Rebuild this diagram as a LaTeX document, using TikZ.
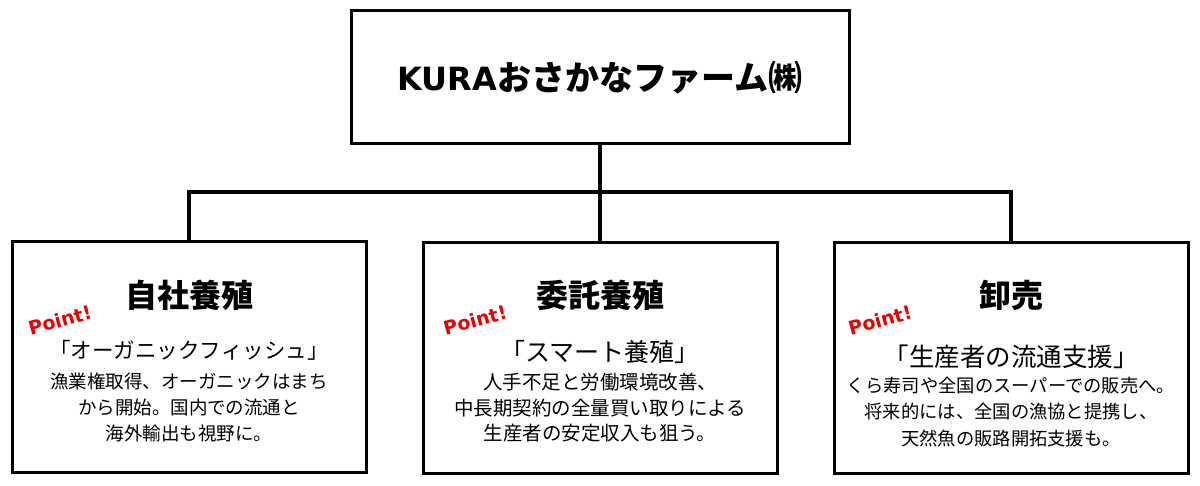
\documentclass[tikz,border=0pt]{standalone}
\usepackage{fontspec}
\newfontfamily\jp{Noto Sans CJK JP}
\newfontfamily\dvs{DejaVu Sans}
\definecolor{pointred}{RGB}{235,0,0}
\begin{document}
\begin{tikzpicture}[x=1pt,y=-1pt,
  box/.style={draw=black,line width=3pt,fill=white,inner sep=0pt,minimum width=354pt,minimum height=231pt},
  conn/.style={line width=4pt,black},
  ttl/.style={font=\jp\bfseries\fontsize{32}{36}\selectfont,inner sep=0pt},
  sub/.style={font=\jp\fontsize{24}{28}\selectfont,inner sep=0pt},
  body/.style={font=\jp\fontsize{18.5}{26}\selectfont,align=center,inner sep=0pt},
  pnt/.style={font=\dvs\bfseries\fontsize{19}{22}\selectfont,text=pointred,rotate=15,inner sep=0pt}]
\useasboundingbox (0,0) rectangle (1200,485);
% top box
\node[draw=black,line width=3pt,inner sep=0pt,minimum width=498pt,minimum height=133pt] (top) at (600,76.5) {};
\node[inner sep=0pt] (toptxt) at (600,78) {{\dvs\bfseries\fontsize{32}{36}\selectfont KURA}{\jp\bfseries\fontsize{34}{38}\selectfont おさかなファーム㈱}};
% lower boxes
\node[box] (L) at (189,356.5) {};
\node[box] (M) at (600,357.5) {};
\node[box] (R) at (1011,357.5) {};
% connectors
\coordinate (busL) at (189,192);
\coordinate (busR) at (1011,192);
\draw[conn] (top.south) -- (M.north);
\draw[conn] (L.north) -- (busL) -- (busR) -- (R.north);
% left content
\node[ttl] (Lt) at (189,295) {自社養殖};
\node[pnt] (Lp) at (60,320) {Point!};
\node[sub,font=\jp\fontsize{21.5}{26}\selectfont] (Ls) at (189,350) {「オーガニックフィッシュ」};
\node[body] (Lb) at (189,407) {漁業権取得、オーガニックはまち\\から開始。国内での流通と\\海外輸出も視野に。};
% middle content
\node[ttl] (Mt) at (600,295) {委託養殖};
\node[pnt] (Mp) at (475,320) {Point!};
\node[sub,font=\jp\fontsize{25}{28}\selectfont] (Ms) at (600,352) {「スマート養殖」};
\node[body,font=\jp\fontsize{19.5}{25.5}\selectfont] (Mb) at (600,408) {人手不足と労働環境改善、\\中長期契約の全量買い取りによる\\生産者の安定収入も狙う。};
% right content
\node[ttl] (Rt) at (1011,295) {卸売};
\node[pnt] (Rp) at (880,320) {Point!};
\node[sub,font=\jp\fontsize{25.5}{28}\selectfont] (Rs) at (1011,357) {「生産者の流通支援」};
\node[body,font=\jp\fontsize{18.3}{26.5}\selectfont] (Rb) at (1011,412) {くら寿司や全国のスーパーでの販売へ。\\将来的には、全国の漁協と提携し、\\天然魚の販路開拓支援も。};
\end{tikzpicture}
\end{document}
